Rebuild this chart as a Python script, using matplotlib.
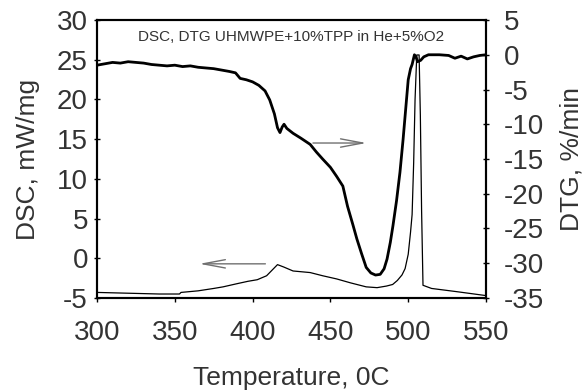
import matplotlib
matplotlib.use("Agg")
import matplotlib.pyplot as plt

plt.rcParams["font.family"] = ["Liberation Sans", "DejaVu Sans"]
plt.rcParams["axes.unicode_minus"] = False

# --- data --------------------------------------------------------------------
# DSC curve (thin, left axis), mW/mg
dsc_temp = [300, 320, 340, 353, 354, 365, 375, 381, 390, 397, 403, 409, 413,
            416, 420, 426, 437, 445, 454, 463, 473, 480, 486, 490, 493, 496,
            498, 500, 501.5, 502.5, 503.5, 504.4, 505.5, 507, 507.8, 508.6,
            509.5, 515, 531, 550]
dsc_val = [-4.3, -4.4, -4.5, -4.5, -4.3, -4.1, -3.8, -3.6, -3.2, -2.9, -2.7,
           -2.2, -1.4, -0.8, -1.1, -1.6, -1.8, -2.2, -2.6, -3.1, -3.6, -3.7,
           -3.5, -3.3, -2.8, -2.1, -1.3, 0.5, 3.3, 5.5, 12.0, 20.0, 25.6, 25.6,
           18.0, 6.0, -3.4, -3.8, -4.2, -4.7]

# DTG curve (thick, right axis), %/min
dtg_temp = [300, 305, 310, 315, 320, 325, 330, 335, 340, 345, 350, 355, 360,
            365, 370, 375, 380, 385, 389, 392, 396, 400, 404, 408, 411, 414,
            416, 417.6, 419, 420.2, 422, 426, 431, 437, 441, 445, 450, 454,
            458, 461, 464.5, 467, 470, 473, 476, 479, 482, 484.5, 486.4,
            488.5, 490.2, 492.5, 494.7, 496.7, 498.5, 500, 501.5, 502.5, 504,
            505, 506, 508, 510, 513, 520, 526, 530, 534, 538, 542, 546, 550]
dtg_val = [-1.5, -1.3, -1.1, -1.2, -1.0, -1.1, -1.2, -1.4, -1.5, -1.6, -1.5,
           -1.7, -1.6, -1.8, -1.9, -2.0, -2.2, -2.4, -2.6, -3.4, -3.6, -3.9,
           -4.4, -5.2, -6.5, -8.5, -10.5, -11.2, -10.4, -10.0, -10.6, -11.3,
           -12.0, -12.9, -14.0, -15.0, -16.2, -17.5, -18.9, -21.8, -24.5,
           -26.5, -28.6, -30.6, -31.4, -31.7, -31.6, -30.8, -29.4, -27.0,
           -24.6, -21.0, -16.9, -12.2, -7.5, -3.6, -2.0, -1.4, 0.0, -0.3,
           -1.0, -0.8, -0.3, 0.0, 0.0, -0.1, -0.5, -0.2, -0.6, -0.3, -0.1, 0.0]

x_ticks = [300, 350, 400, 450, 500, 550]
dsc_ticks = [-5, 0, 5, 10, 15, 20, 25, 30]
dtg_ticks = [-35, -30, -25, -20, -15, -10, -5, 0, 5]

TEXT = "#333333"

fig = plt.figure(figsize=(5.85, 3.91), dpi=100)
ax = fig.add_axes([0.1658, 0.2379, 0.665, 0.7109])
ax2 = ax.twinx()

ax.plot(dsc_temp, dsc_val, color="black", lw=0.9)
ax2.plot(dtg_temp, dtg_val, color="black", lw=2.0)

ax.set_xlim(300, 550)
ax.set_ylim(-5, 30)
ax2.set_ylim(-35, 5)
ax.set_xticks(x_ticks)
ax.set_yticks(dsc_ticks)
ax2.set_yticks(dtg_ticks)

for a in (ax, ax2):
    for s in a.spines.values():
        s.set_linewidth(1.5)
        s.set_color("black")

ax.tick_params(axis="x", direction="out", length=3, width=1, pad=13,
               labelsize=20, labelcolor=TEXT)
ax.tick_params(axis="y", direction="inout", length=5, width=1, pad=4,
               labelsize=20, labelcolor=TEXT)
ax2.tick_params(axis="y", direction="inout", length=5, width=1, pad=10,
                labelsize=20, labelcolor=TEXT)

ax.set_xlabel("Temperature, 0C", fontsize=19, color=TEXT, labelpad=14)
ax.set_ylabel("DSC, mW/mg", fontsize=19, color=TEXT)
ax2.set_ylabel("DTG, %/min", fontsize=19, color=TEXT)
ax.yaxis.set_label_coords(-0.1465, 0.5)
ax2.yaxis.set_label_coords(1.188, 0.5)

ax.text(0.5, 0.94, "DSC, DTG UHMWPE+10%TPP in He+5%O2", transform=ax.transAxes,
        ha="center", va="center", fontsize=11, color=TEXT)

# arrows pointing to the matching axis
arrow = dict(arrowstyle="->,head_length=1.6,head_width=0.3", color="#707070", lw=1)
ax.annotate("", xy=(364, -0.7), xytext=(410, -0.7), arrowprops=arrow)
ax2.annotate("", xy=(475, -12.7), xytext=(437, -12.7), arrowprops=arrow)

fig.savefig("out.png", dpi=100)
